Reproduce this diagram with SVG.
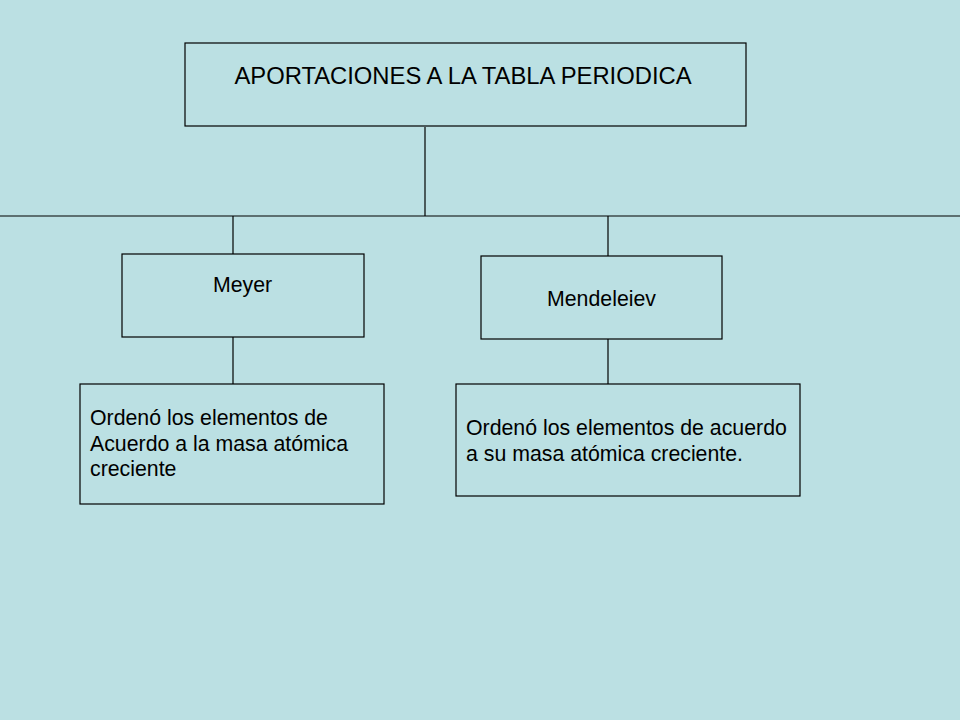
<svg xmlns="http://www.w3.org/2000/svg" width="960" height="720" viewBox="0 0 960 720">
<style>
.box{fill:none;stroke:#000;stroke-width:1.2}
.ln{stroke:#000;stroke-width:1.2;fill:none}
text{font-family:"Liberation Sans",Arial,sans-serif;fill:#000}
.t{font-size:21.3px}
</style>
<rect width="960" height="720" fill="#BBE0E3"/>
<g id="connectors">
<line class="ln" x1="425" y1="127" x2="425" y2="216"/>
<line class="ln" x1="0" y1="216" x2="960" y2="216"/>
<line class="ln" x1="233" y1="216" x2="233" y2="254"/>
<line class="ln" x1="608" y1="216" x2="608" y2="256"/>
<line class="ln" x1="233" y1="337" x2="233" y2="384"/>
<line class="ln" x1="608" y1="339" x2="608" y2="384"/>
</g>
<g id="title">
<rect class="box" x="185" y="43" width="561" height="83"/>
<text x="463" y="83.5" font-size="23.8" text-anchor="middle">APORTACIONES A LA TABLA PERIODICA</text>
</g>
<g id="meyer">
<rect class="box" x="122" y="254" width="242" height="83"/>
<text class="t" x="242.5" y="291.5" text-anchor="middle">Meyer</text>
</g>
<g id="mendeleiev">
<rect class="box" x="481" y="256" width="241" height="83"/>
<text class="t" x="601.5" y="305.5" text-anchor="middle">Mendeleiev</text>
</g>
<g id="meyer-desc">
<rect class="box" x="80" y="384" width="304" height="120"/>
<text class="t"><tspan x="90" y="425">Ordenó los elementos de</tspan><tspan x="90" y="451">Acuerdo a la masa atómica</tspan><tspan x="90" y="476">creciente</tspan></text>
</g>
<g id="mendeleiev-desc">
<rect class="box" x="456" y="384" width="344" height="112"/>
<text class="t"><tspan x="466" y="435">Ordenó los elementos de acuerdo</tspan><tspan x="466" y="460.5">a su masa atómica creciente.</tspan></text>
</g>
</svg>
